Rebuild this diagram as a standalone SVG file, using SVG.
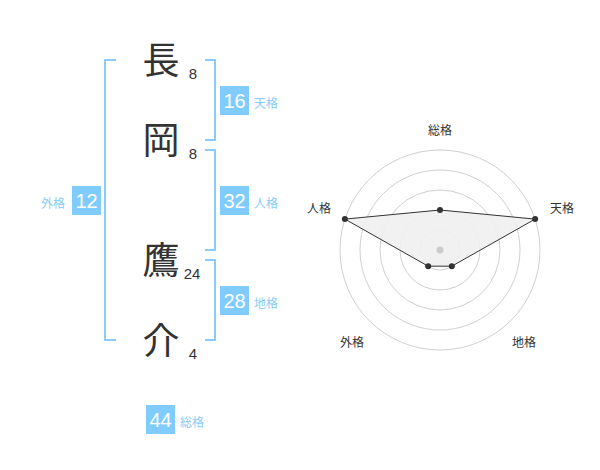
<svg xmlns="http://www.w3.org/2000/svg" width="600" height="470" viewBox="0 0 600 470">
<style>
.kanji{font-family:"Noto Sans CJK JP","Noto Sans CJK SC",sans-serif;font-size:37px;fill:#333;text-anchor:middle}
.num{font-family:"Liberation Sans",Arial,sans-serif;font-size:15px;fill:#333;text-anchor:middle}
.br{fill:none;stroke:#88ccf8;stroke-width:2}
.box{fill:#80ccff}
.bn{font-family:"Liberation Sans",Arial,sans-serif;font-size:20px;fill:#fff;text-anchor:middle}
.bl{font-family:"Noto Sans CJK JP","Noto Sans CJK SC",sans-serif;font-size:12px;fill:#88ccf8}
.ring{fill:none;stroke:#d0d0d0;stroke-width:1}
.rl{font-family:"Noto Sans CJK JP","Noto Sans CJK SC",sans-serif;font-size:12px;fill:#333;text-anchor:middle}
.pt{fill:#333}
</style>
<rect width="600" height="470" fill="#fff"/>
<g id="chars">
<text class="kanji" x="161" y="74">長</text>
<text class="kanji" x="161" y="154">岡</text>
<text class="kanji" x="161" y="274">鷹</text>
<text class="kanji" x="161" y="354">介</text>
<text class="num" x="193" y="78.5">8</text>
<text class="num" x="193" y="158.5">8</text>
<text class="num" x="192" y="278.5">24</text>
<text class="num" x="193" y="358.5">4</text>
</g>
<g id="connectors">
<path class="br" d="M116,60H105V340H116"/>
<path class="br" d="M205,60H215V140H205"/>
<path class="br" d="M205,150H215V250H205"/>
<path class="br" d="M205,260H215V340H205"/>
</g>
<g id="tenkaku">
<rect class="box" x="220" y="86" width="29" height="29"/>
<text class="bn" x="234.5" y="107.5">16</text>
<text class="bl" x="254" y="108">天格</text>
</g>
<g id="jinkaku">
<rect class="box" x="220" y="186" width="29" height="29"/>
<text class="bn" x="234.5" y="207.5">32</text>
<text class="bl" x="254" y="208">人格</text>
</g>
<g id="chikaku">
<rect class="box" x="220" y="286" width="29" height="29"/>
<text class="bn" x="234.5" y="307.5">28</text>
<text class="bl" x="254" y="308">地格</text>
</g>
<g id="gaikaku">
<rect class="box" x="72" y="186" width="29" height="29"/>
<text class="bn" x="86.5" y="207.5">12</text>
<text class="bl" x="41" y="208">外格</text>
</g>
<g id="soukaku">
<rect class="box" x="146" y="405" width="29" height="29"/>
<text class="bn" x="160.5" y="426.5">44</text>
<text class="bl" x="180" y="427">総格</text>
</g>
<g id="radar">
<circle class="ring" cx="440" cy="250" r="20"/>
<circle class="ring" cx="440" cy="250" r="40"/>
<circle class="ring" cx="440" cy="250" r="60"/>
<circle class="ring" cx="440" cy="250" r="80"/>
<circle class="ring" cx="440" cy="250" r="100"/>
<polygon points="440,210 535.1,219.1 451.8,266.2 428.2,266.2 344.9,219.1" fill="#f0f0f0" fill-opacity="0.9" stroke="#333" stroke-width="1"/>
<circle cx="440" cy="250" r="3.5" fill="#ccc"/>
<circle class="pt" cx="440" cy="210" r="3"/>
<circle class="pt" cx="535.1" cy="219.1" r="3"/>
<circle class="pt" cx="451.8" cy="266.2" r="3"/>
<circle class="pt" cx="428.2" cy="266.2" r="3"/>
<circle class="pt" cx="344.9" cy="219.1" r="3"/>
<text class="rl" x="440" y="135">総格</text>
<text class="rl" x="562" y="213">天格</text>
<text class="rl" x="319" y="213">人格</text>
<text class="rl" x="352" y="347">外格</text>
<text class="rl" x="524" y="347">地格</text>
</g>
</svg>
